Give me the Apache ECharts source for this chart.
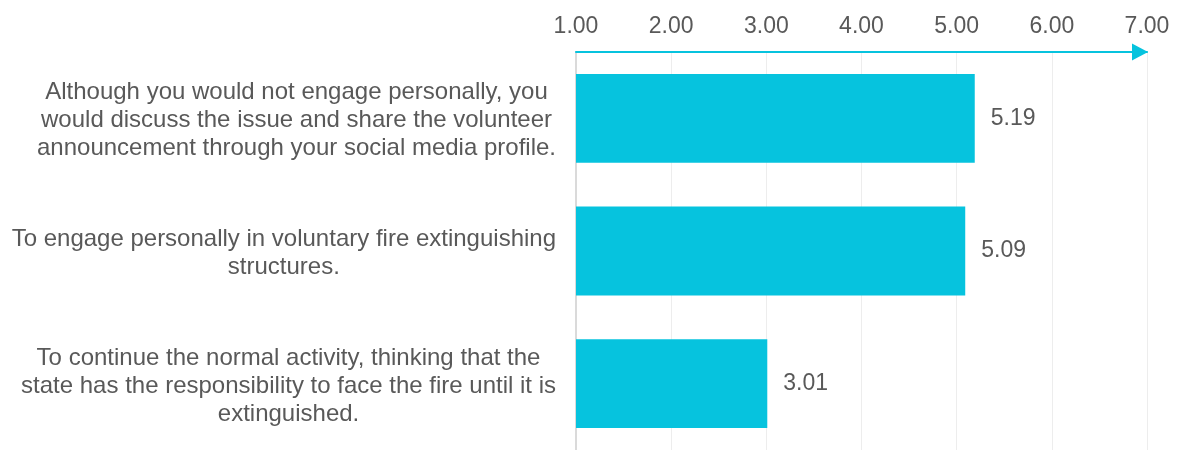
<!DOCTYPE html>
<html>
<head>
<meta charset="utf-8">
<script src="https://cdn.jsdelivr.net/npm/echarts@6/dist/echarts.min.js"></script>
<style>
  html, body { margin: 0; padding: 0; background: #ffffff; }
  #chart { width: 1178px; height: 450px; }
</style>
</head>
<body>
<div id="chart"></div>
<script>
// Survey statements (top to bottom) and their mean scores on a 1–7 scale
const categories = [
  'Although you would not engage personally, you\nwould discuss the issue and share the volunteer\nannouncement through your social media profile.',
  'To engage personally in voluntary fire extinguishing\nstructures.',
  'To continue the normal activity, thinking that the\nstate has the responsibility to face the fire until it is\nextinguished.'
];
const meanScores = [5.19, 5.09, 3.01];
const tickLabels = ['1.00', '2.00', '3.00', '4.00', '5.00', '6.00', '7.00'];

const TEXT = '#595959';
const CYAN = '#06C3DE';
const FONT = '"Liberation Sans", Arial, sans-serif';

const chart = echarts.init(document.getElementById('chart'), null, { renderer: 'canvas' });

chart.setOption({
  backgroundColor: '#ffffff',
  animation: false,
  grid: { left: 576, top: 52, width: 571, height: 405, containLabel: false },
  xAxis: {
    type: 'value',
    position: 'top',
    min: 1,
    max: 7,
    interval: 1,
    axisLine: {
      show: true,
      lineStyle: { color: CYAN, width: 2 },
      symbol: ['none', 'triangle'],
      symbolSize: [17, 16],
      symbolOffset: [0, -7]
    },
    axisTick: { show: false },
    axisLabel: {
      color: TEXT,
      fontFamily: FONT,
      fontSize: 23,
      margin: 14,
      formatter: (v) => tickLabels[Math.round(v) - 1]
    },
    splitLine: { show: true, lineStyle: { color: '#EDEDED', width: 1 } }
  },
  yAxis: {
    type: 'category',
    data: categories,
    inverse: true,
    axisLine: { show: true, lineStyle: { color: '#DADADA', width: 2 } },
    axisTick: { show: false },
    axisLabel: {
      margin: 20,
      align: 'right',
      formatter: (v) => '{c|' + v + '}',
      rich: {
        c: {
          align: 'center',
          color: TEXT,
          fontFamily: FONT,
          fontSize: 24,
          lineHeight: 28,
          padding: [5, 0, 0, 0]
        }
      }
    }
  },
  series: [{
    type: 'bar',
    data: meanScores,
    clip: true,
    barCategoryGap: '33%',
    itemStyle: { color: CYAN },
    label: {
      show: true,
      position: 'right',
      distance: 16,
      color: TEXT,
      fontFamily: FONT,
      fontSize: 23,
      formatter: (p) => p.value.toFixed(2)
    }
  }]
});
</script>
</body>
</html>
